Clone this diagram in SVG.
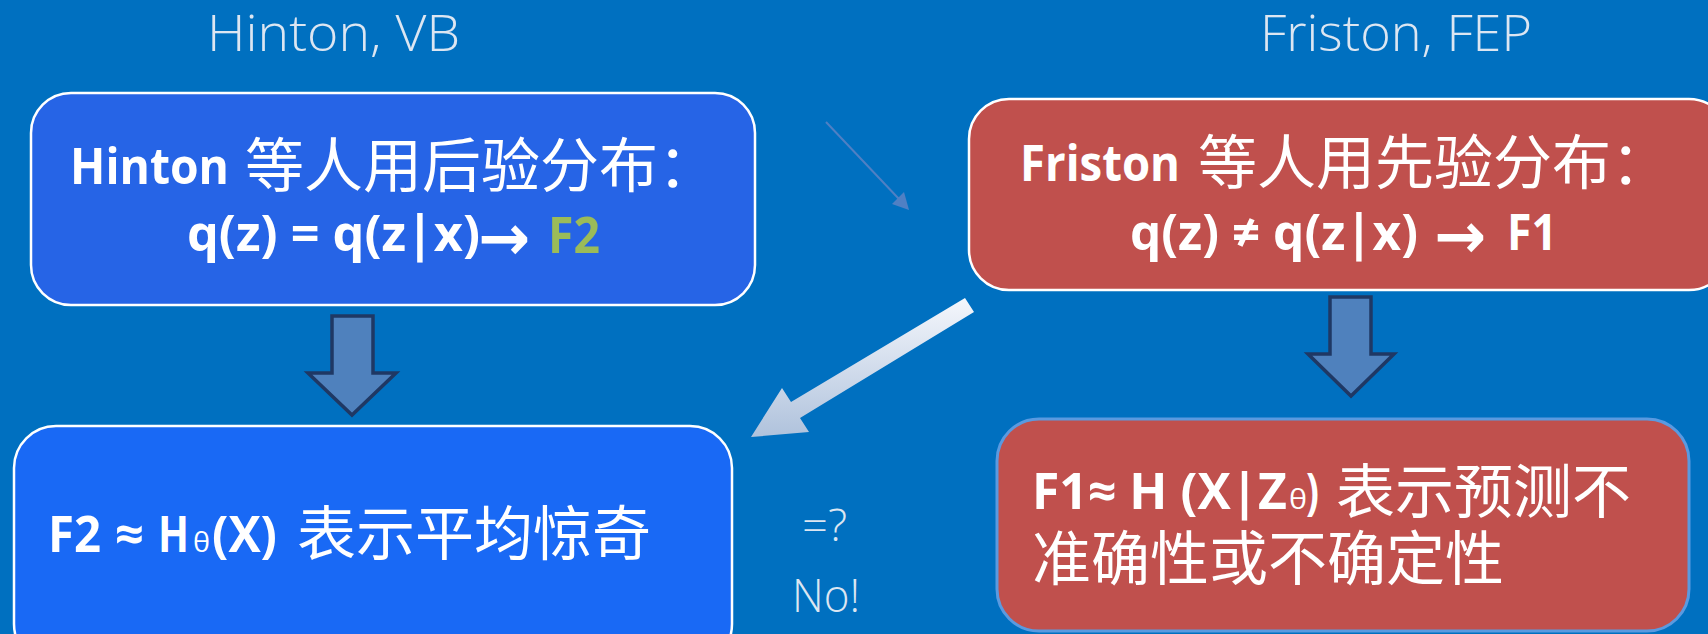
<svg xmlns="http://www.w3.org/2000/svg" width="1708" height="634" viewBox="0 0 1708 634">
<style>
.title{font-family:"Open Sans","Liberation Sans",sans-serif;font-weight:300;font-size:50px;fill:#dce6f2}
.b{font-family:"Open Sans","Liberation Sans","DejaVu Sans",sans-serif;font-weight:700;font-size:50px;fill:#ffffff}
.arr{font-family:"DejaVu Sans",sans-serif;font-weight:700;font-size:64px;fill:#ffffff}
.cjk{font-family:"Noto Sans CJK SC","Noto Sans CJK JP",sans-serif;font-weight:400;font-size:59px;fill:#ffffff}
.th{font-family:"Open Sans","Liberation Sans","DejaVu Sans",sans-serif;font-weight:400;font-size:28px;fill:#ffffff}
.note{font-family:"Open Sans","Liberation Sans",sans-serif;font-weight:300;font-size:46px;fill:#dce6f2}
.box{stroke-width:2.5}
.blk{fill:#4f81bd;stroke:#1f3864;stroke-width:3.5;stroke-linejoin:miter}
</style>
<defs>
<linearGradient id="wg" gradientUnits="userSpaceOnUse" x1="0" y1="298" x2="0" y2="437">
<stop offset="0" stop-color="#f5f7fc"/>
<stop offset="1" stop-color="#afc2dc"/>
</linearGradient>
</defs>
<rect x="0" y="0" width="1708" height="634" fill="#0070c0"/>

<text class="title" x="207" y="51" textLength="253" lengthAdjust="spacingAndGlyphs">Hinton, VB</text>
<text class="title" x="1260" y="51" textLength="272" lengthAdjust="spacingAndGlyphs">Friston, FEP</text>

<g id="connectors">
<line x1="826" y1="122" x2="899" y2="199" stroke="#4f80c4" stroke-width="2"/>
<polygon points="909,210 892,204 904,192" fill="#4f80c4"/>
<path d="M332,316 L373,316 L373,373 L396,373 L352,415 L308,373 L332,373 Z" class="blk"/>
<path d="M1330,297 L1371,297 L1371,354 L1394,354 L1351,396 L1308,354 L1330,354 Z" class="blk"/>
<polygon points="965,298 974,312 800,418 809,432 751,437 782,388 791,402" fill="url(#wg)"/>
</g>

<g id="node-hinton">
<rect class="box" x="31" y="93" width="724" height="212" rx="40" ry="40" fill="#2664e6" stroke="#ffffff"/>
<text class="b" x="70" y="184" textLength="159" lengthAdjust="spacingAndGlyphs">Hinton</text>
<text class="cjk" x="245" y="187">等人用后验分布：</text>
<text class="b" x="187" y="251" textLength="293" lengthAdjust="spacingAndGlyphs">q(z) = q(z|x)</text>
<text class="arr" x="478" y="260" textLength="52" lengthAdjust="spacingAndGlyphs">→</text>
<text class="b" x="548" y="253" textLength="52" lengthAdjust="spacingAndGlyphs" style="fill:#9bbb59">F2</text>
</g>

<g id="node-friston">
<rect class="box" x="969" y="99" width="760" height="191" rx="40" ry="40" fill="#c0504d" stroke="#ffffff"/>
<text class="b" x="1020" y="181" textLength="160" lengthAdjust="spacingAndGlyphs">Friston</text>
<text class="cjk" x="1198" y="184">等人用先验分布：</text>
<text class="b" x="1130" y="250" textLength="288" lengthAdjust="spacingAndGlyphs">q(z) ≠ q(z|x)</text>
<text class="arr" x="1434" y="258" textLength="52" lengthAdjust="spacingAndGlyphs">→</text>
<text class="b" x="1507" y="250" textLength="50" lengthAdjust="spacingAndGlyphs">F1</text>
</g>

<g id="node-f2">
<rect class="box" x="14" y="426" width="718" height="240" rx="42" ry="42" fill="#1969f5" stroke="#ffffff"/>
<text class="b" y="552"><tspan x="48" textLength="53" lengthAdjust="spacingAndGlyphs">F2</tspan><tspan x="115" textLength="29" lengthAdjust="spacingAndGlyphs">≈</tspan><tspan x="158" textLength="31" lengthAdjust="spacingAndGlyphs">H</tspan><tspan class="th" x="193" textLength="17" lengthAdjust="spacingAndGlyphs">θ</tspan><tspan x="212" textLength="65" lengthAdjust="spacingAndGlyphs">(X)</tspan></text>
<text class="cjk" x="297" y="555">表示平均惊奇</text>
</g>

<g id="node-f1">
<rect x="997" y="419" width="692" height="212" rx="42" ry="42" fill="#c0504d" stroke="#5a9ae0" stroke-width="3"/>
<text class="b" y="509"><tspan x="1032" textLength="255" lengthAdjust="spacingAndGlyphs">F1≈ H (X|Z</tspan><tspan class="th" x="1289" textLength="18" lengthAdjust="spacingAndGlyphs">θ</tspan><tspan x="1306" textLength="13" lengthAdjust="spacingAndGlyphs">)</tspan></text>
<text class="cjk" x="1336" y="513">表示预测不</text>
<text class="cjk" x="1032" y="580">准确性或不确定性</text>
</g>

<g id="note">
<text class="note" x="802" y="541" textLength="45" lengthAdjust="spacingAndGlyphs" style="font-size:44px">=?</text>
<text class="note" x="792" y="612" textLength="68" lengthAdjust="spacingAndGlyphs">No!</text>
</g>
</svg>
